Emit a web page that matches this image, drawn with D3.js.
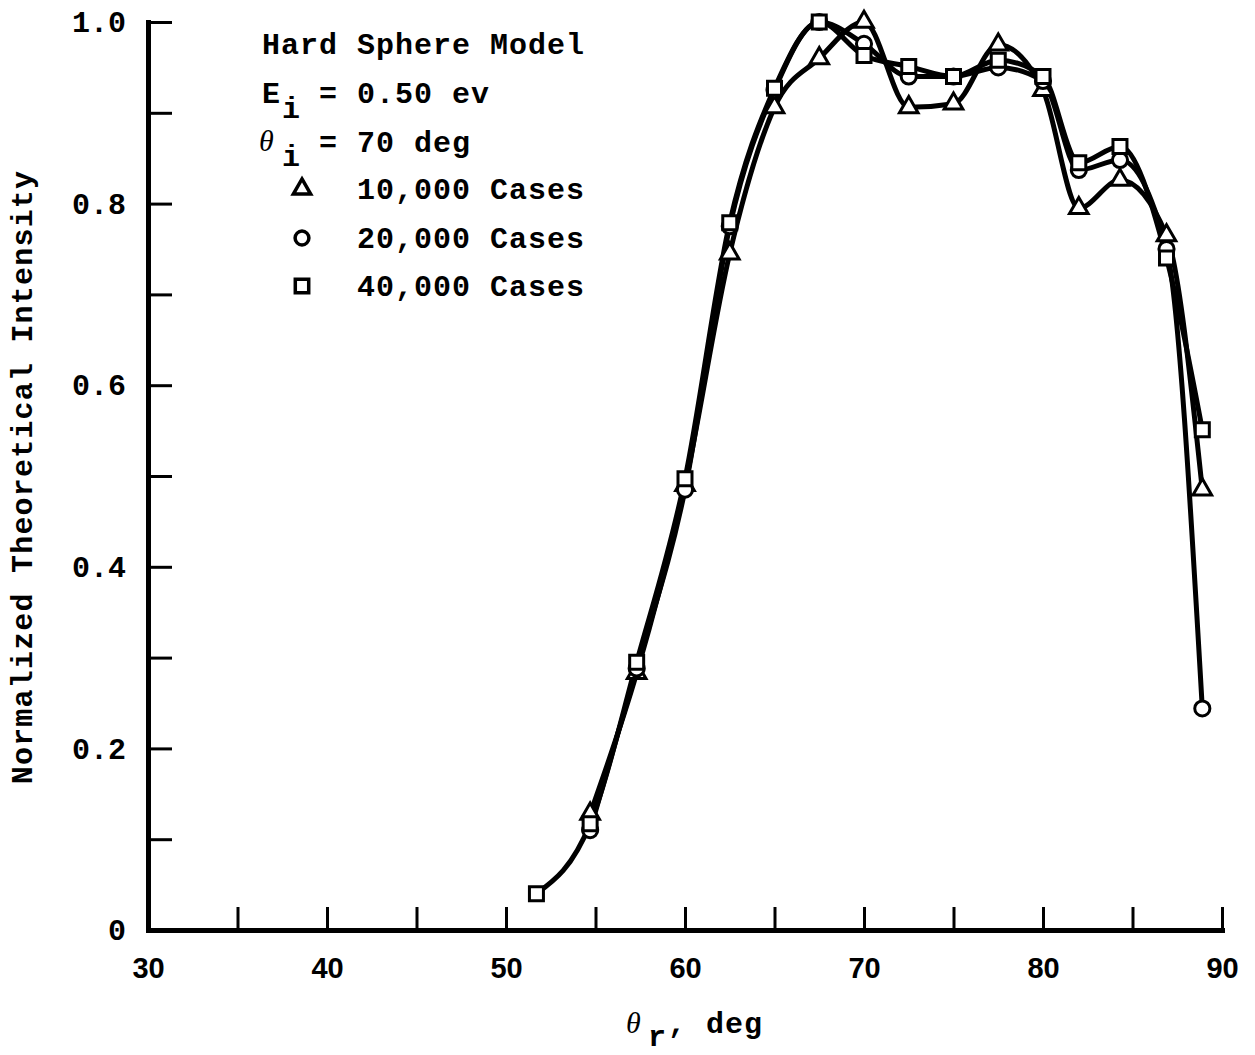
<!DOCTYPE html>
<html>
<head>
<meta charset="utf-8">
<script src="https://cdn.jsdelivr.net/npm/d3@7"></script>
<style>
  html, body { margin: 0; padding: 0; background: #fff; }
  svg { display: block; }
</style>
</head>
<body>
<svg id="chart" width="1255" height="1055"></svg>
<script>
// ---- data ----
const anglesAll = [51.7, 54.7, 57.3, 60, 62.5, 65, 67.5, 70, 72.5, 75, 77.5, 80, 82, 84.3, 86.9, 88.9];
const anglesTri = [54.7, 57.3, 60, 62.5, 65, 67.5, 70, 72.5, 75, 77.5, 80, 82, 84.3, 86.9, 88.9];
const cases10k = [0.128, 0.283, 0.49, 0.745, 0.906, 0.96, 1.0, 0.906, 0.91, 0.975, 0.925, 0.795, 0.826, 0.765, 0.485];
const cases20k = [0.110, 0.288, 0.485, 0.775, 0.925, 1.0, 0.976, 0.940, 0.940, 0.950, 0.935, 0.837, 0.848, 0.750, 0.244];
const cases40k = [0.040, 0.117, 0.295, 0.497, 0.779, 0.927, 1.0, 0.963, 0.951, 0.940, 0.958, 0.940, 0.845, 0.863, 0.740, 0.551];
const xTicks = [30, 35, 40, 45, 50, 55, 60, 65, 70, 75, 80, 85, 90];
const xLabels = [30, 40, 50, 60, 70, 80, 90];
const yTicks = [0, 0.1, 0.2, 0.3, 0.4, 0.5, 0.6, 0.7, 0.8, 0.9, 1.0];
const yLabels = [0, 0.2, 0.4, 0.6, 0.8, 1.0];
const legendLabels = ["10,000 Cases", "20,000 Cases", "40,000 Cases"];

const series = [
  { name: legendLabels[0], x: anglesTri, y: cases10k, symbol: d3.symbolTriangle, size: 150, lsize: 130 },
  { name: legendLabels[1], x: anglesTri, y: cases20k, symbol: d3.symbolCircle, size: 180, lsize: 150 },
  { name: legendLabels[2], x: anglesAll, y: cases40k, symbol: d3.symbolSquare, size: 196, lsize: 180 }
];

// ---- layout ----
const svg = d3.select("#chart");
const x = d3.scaleLinear().domain([30, 90]).range([148, 1222]);
const y = d3.scaleLinear().domain([0, 1]).range([930, 22]);
const MONO = "'Liberation Mono', 'DejaVu Sans Mono', monospace";
const SANS = "'Liberation Sans', Arial, sans-serif";
const SERIF = "'Liberation Serif', 'DejaVu Serif', serif";

// x axis
const xAxis = d3.axisBottom(x)
  .tickValues(xTicks)
  .tickSizeInner(-23).tickSizeOuter(0).tickPadding(27)
  .tickFormat(d => xLabels.includes(d) ? String(d) : "");
const gx = svg.append("g").attr("transform", "translate(0,930)").call(xAxis);
gx.select(".domain").attr("stroke", "#000").attr("stroke-width", 5).attr("stroke-linecap", "square");
gx.selectAll(".tick line").attr("stroke", "#000").attr("stroke-width", 3);
gx.selectAll(".tick text").attr("fill", "#000")
  .style("font-family", SANS).style("font-weight", "bold").style("font-size", "29px");

// y axis
const yAxis = d3.axisLeft(y)
  .tickValues(yTicks)
  .tickSizeInner(-24).tickSizeOuter(0).tickPadding(22)
  .tickFormat(d => {
    const lab = yLabels.find(v => Math.abs(v - d) < 1e-9);
    if (lab === undefined) return "";
    return lab === 0 ? "0" : d3.format(".1f")(lab);
  });
const gy = svg.append("g").attr("transform", "translate(148,0)").call(yAxis);
gy.select(".domain").attr("stroke", "#000").attr("stroke-width", 5).attr("stroke-linecap", "square");
gy.selectAll(".tick line").attr("stroke", "#000").attr("stroke-width", 3);
gy.selectAll(".tick text").attr("fill", "#000")
  .style("font-family", MONO).style("font-weight", "bold").style("font-size", "30px");

// curves
const line = d3.line()
  .x(d => x(d[0])).y(d => y(d[1]))
  .curve(d3.curveMonotoneX);
series.forEach(s => {
  const pts = s.x.map((a, i) => [a, s.y[i]]);
  svg.append("path").datum(pts)
    .attr("d", line)
    .attr("fill", "none").attr("stroke", "#000")
    .attr("stroke-width", 5).attr("stroke-linejoin", "round");
});

// markers
series.forEach(s => {
  const pts = s.x.map((a, i) => [a, s.y[i]]);
  svg.append("g").selectAll("path").data(pts).join("path")
    .attr("transform", d => `translate(${x(d[0])},${y(d[1])})`)
    .attr("d", d3.symbol().type(s.symbol).size(s.size))
    .attr("fill", "#fff").attr("stroke", "#000").attr("stroke-width", 3);
});

// legend / annotation
const leg = svg.append("g")
  .style("font-family", MONO).style("font-weight", "bold").style("font-size", "30px")
  .attr("fill", "#000");
leg.append("text").attr("x", 262).attr("y", 54).attr("letter-spacing", 1).text("Hard Sphere Model");
leg.append("text").attr("x", 262).attr("y", 103).text("E");
leg.append("text").attr("x", 282).attr("y", 118).text("i");
leg.append("text").attr("x", 319).attr("y", 103).attr("letter-spacing", 1).text("= 0.50 ev");
leg.append("text").attr("x", 259).attr("y", 151)
  .style("font-family", SERIF).style("font-style", "italic").style("font-weight", "normal")
  .style("font-size", "30px").text("θ");
leg.append("text").attr("x", 282).attr("y", 166).text("i");
leg.append("text").attr("x", 319).attr("y", 152).attr("letter-spacing", 1).text("= 70 deg");

const legY = [189, 238, 286];
series.forEach((s, i) => {
  leg.append("path")
    .attr("transform", `translate(302,${legY[i]})`)
    .attr("d", d3.symbol().type(s.symbol).size(s.lsize))
    .attr("fill", "#fff").attr("stroke", "#000").attr("stroke-width", 3.5);
  leg.append("text").attr("x", 357).attr("y", legY[i] + 10)
    .attr("letter-spacing", 1).text(s.name);
});

// axis titles
svg.append("text")
  .attr("transform", "translate(32,477) rotate(-90)")
  .attr("text-anchor", "middle")
  .attr("letter-spacing", 1.2)
  .style("font-family", MONO).style("font-weight", "bold").style("font-size", "30px")
  .attr("fill", "#000")
  .text("Normalized Theoretical Intensity");

const xt = svg.append("g").attr("fill", "#000");
xt.append("text").attr("x", 626).attr("y", 1033)
  .style("font-family", SERIF).style("font-style", "italic").style("font-size", "30px")
  .text("θ");
xt.append("text").attr("x", 648).attr("y", 1046)
  .style("font-family", MONO).style("font-weight", "bold").style("font-size", "30px")
  .text("r");
xt.append("text").attr("x", 668).attr("y", 1033).attr("letter-spacing", 1)
  .style("font-family", MONO).style("font-weight", "bold").style("font-size", "30px")
  .text(", deg");
</script>
</body>
</html>
